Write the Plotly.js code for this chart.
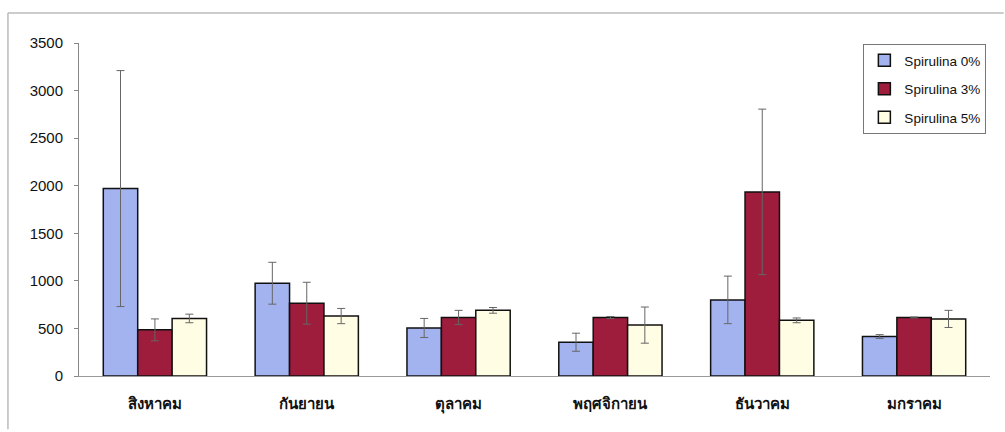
<!DOCTYPE html>
<html>
<head>
<meta charset="utf-8">
<script src="https://cdn.plot.ly/plotly-3.0.1.min.js"></script>
<style>html,body{margin:0;padding:0;background:#fff;}#chart{width:1005px;height:432px;}</style>
</head>
<body>
<div id="chart"></div>
<script>
const months = ["สิงหาคม", "กันยายน", "ตุลาคม", "พฤศจิกายน", "ธันวาคม", "มกราคม"];
const seriesNames = ["Spirulina 0%", "Spirulina 3%", "Spirulina 5%"];
const spirulina0 = [1970, 975, 505, 355, 800, 415];
const spirulina3 = [485, 765, 615, 615, 1935, 615];
const spirulina5 = [605, 630, 690, 535, 585, 600];
const err0 = [1240, 220, 100, 95, 250, 20];
const err3 = [115, 220, 75, 10, 870, 5];
const err5 = [45, 80, 30, 190, 25, 90];
const yTicks = [0, 500, 1000, 1500, 2000, 2500, 3000, 3500];

const colors = ["#a3b3f0", "#9e1c3c", "#fffde3"];
const vals = [spirulina0, spirulina3, spirulina5];
const errs = [err0, err3, err5];

const traces = vals.map((v, i) => ({
  type: "bar",
  name: seriesNames[i],
  x: months,
  y: v,
  legendgroup: "g" + i,
  marker: {color: colors[i], line: {color: "#111", width: 1.5}},
  error_y: {type: "data", array: errs[i], visible: true, color: "#666", thickness: 1, width: 4}
}));

const layout = {
  width: 1005, height: 432,
  margin: {l: 79, r: 15, t: 43, b: 56},
  paper_bgcolor: "#ffffff",
  plot_bgcolor: "rgba(0,0,0,0)",
  barmode: "group",
  bargap: 0.32,
  bargroupgap: 0,
  font: {family: "Liberation Sans, Arial, sans-serif", color: "#111", size: 12},
  showlegend: true,
  legend: {
    x: 0.861, y: 0.997, xanchor: "left", yanchor: "top",
    bordercolor: "#777", borderwidth: 1, bgcolor: "#fff",
    font: {size: 13.5, family: "Liberation Sans, Arial, sans-serif", color: "#111"},
    tracegroupgap: 8, traceorder: "grouped", itemwidth: 30
  },
  xaxis: {
    type: "category",
    showline: true, linecolor: "#999", linewidth: 1,
    ticks: "", showgrid: false, zeroline: false,
    ticklabelstandoff: 14,
    tickfont: {size: 15, weight: "bold", family: "Noto Sans, DejaVu Sans, sans-serif", color: "#111"}
  },
  yaxis: {
    range: [0, 3500],
    tickvals: yTicks,
    ticktext: yTicks.map(String),
    showline: true, linecolor: "#888", linewidth: 1,
    ticks: "outside", ticklen: 4, tickcolor: "#888",
    ticklabelstandoff: 8,
    showgrid: false, zeroline: false,
    tickfont: {size: 15, color: "#111"}
  },
  shapes: [
    {type: "line", xref: "paper", yref: "paper", x0: -0.078, x1: 1.015, y0: 1.09, y1: 1.09, line: {color: "#bbb", width: 1.5}},
    {type: "line", xref: "paper", yref: "paper", x0: -0.078, x1: -0.078, y0: 1.09, y1: -0.16, line: {color: "#bbb", width: 1.5}}
  ]
};

Plotly.newPlot("chart", traces, layout, {displayModeBar: false, staticPlot: true});
</script>
</body>
</html>
